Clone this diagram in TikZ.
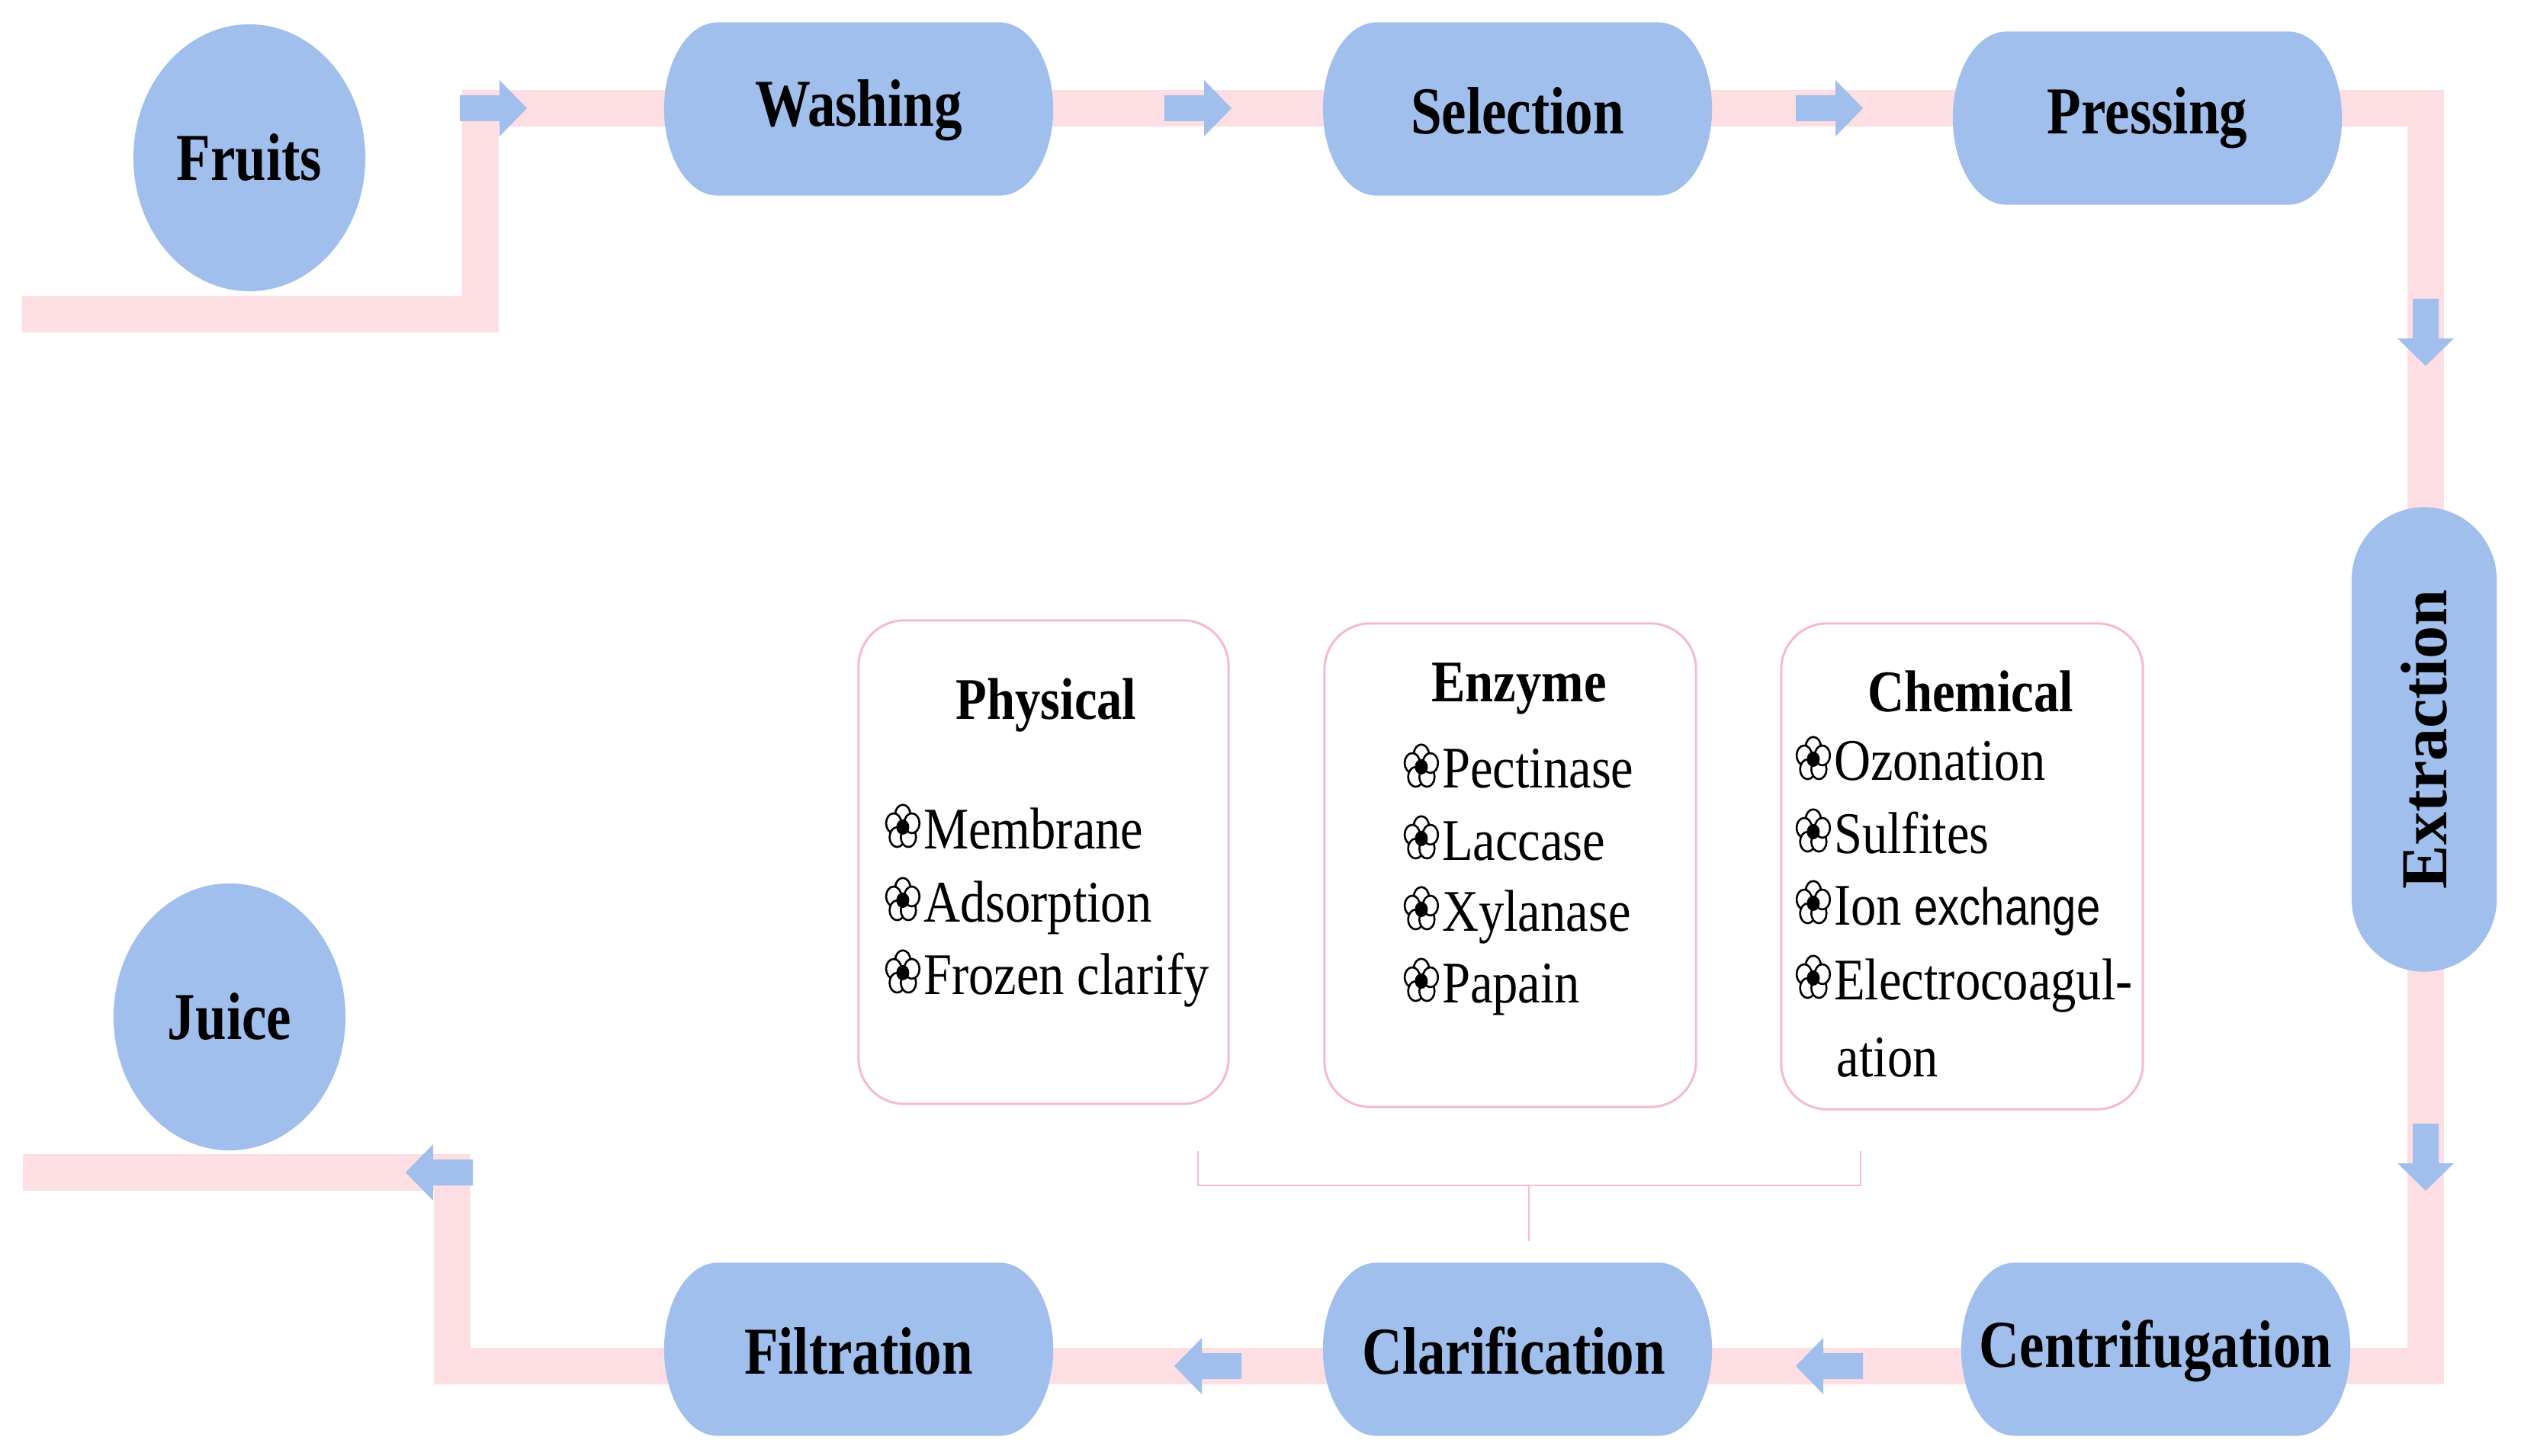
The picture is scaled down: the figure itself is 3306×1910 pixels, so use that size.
\documentclass[tikz,border=0pt]{standalone}
\usepackage{fontspec}
\setmainfont{Liberation Serif}[FakeStretch=0.86]
\newfontfamily\labelfont{Liberation Serif}[FakeStretch=0.83]
\newfontfamily\plainserif{Liberation Serif}
\newfontfamily\sansx{Liberation Sans}[FakeStretch=0.82]
\usetikzlibrary{shapes.geometric,shapes.misc}
\definecolor{nodeblue}{RGB}{160,191,236}
\definecolor{bandpink}{RGB}{252,222,227}
\definecolor{boxpink}{RGB}{245,188,200}
\pgfdeclarelayer{bands}
\pgfdeclarelayer{shapes}
\pgfsetlayers{bands,shapes,main}
\newcommand{\flw}{\tikz[baseline=-0.28cm, x=1cm, y=1.3cm, line width=0.026cm]{%
  \foreach \a in {90,162,234,306,18} \draw[fill=white] (\a:0.125) circle[x radius=0.1cm, y radius=0.13cm];
  \fill (0,0) circle[x radius=0.085cm, y radius=0.1cm];}\hspace{0.04cm}}
\tikzset{
  stadium/.style={rectangle, minimum width=3.7cm, minimum height=2.27cm, inner sep=0pt,
    font=\labelfont\fontsize{25}{29}\selectfont\bfseries},
  oval/.style={ellipse, fill=nodeblue, minimum width=3.04cm, minimum height=3.5cm,
    inner sep=0pt, font=\labelfont\fontsize{25}{29}\selectfont\bfseries},
  band/.style={draw=bandpink, line width=0.48cm, line join=miter},
  infobox/.style={draw=boxpink, line width=0.03cm, rounded corners=0.6cm, fill=white},
  boxtitle/.style={font=\fontsize{22}{26}\selectfont\bfseries, anchor=base, inner sep=0pt},
  item/.style={font=\fontsize{22}{26}\selectfont, anchor=base west, inner sep=0pt},
  bracket/.style={draw=boxpink, line width=0.025cm},
  barrow/.pic={\fill[nodeblue] (0,-17)--(52,-17)--(52,-37)--(88,0)--(52,37)--(52,17)--(0,17)--cycle;}
}
\begin{document}
\begin{tikzpicture}[x=0.01cm,y=-0.01cm]
\useasboundingbox (0,0) rectangle (3306,1910);
% band route
\coordinate (b0) at (29,412);
\coordinate (b1) at (630,412);
\coordinate (b2) at (630,142);
\coordinate (b3) at (3181,142);
\coordinate (b4) at (3181,1792);
\coordinate (b5) at (593,1792);
\coordinate (b6) at (593,1538);
\coordinate (b7) at (30,1538);
\begin{pgfonlayer}{bands}
\draw[band] (b0) -- (b1) -- (b2) -- (b3) -- (b4) -- (b5) -- (b6) -- (b7);
\pic (a1) at (603,142) {barrow};
\pic (a2) at (1527,142) {barrow};
\pic (a3) at (2355,142) {barrow};
\pic[rotate=-90] (a4) at (3181,392) {barrow};
\pic[rotate=-90] (a5) at (3181,1474) {barrow};
\pic[rotate=180] (a6) at (2443,1792) {barrow};
\pic[rotate=180] (a7) at (1628,1792) {barrow};
\pic[rotate=180] (a8) at (620,1538) {barrow};
\end{pgfonlayer}
% process nodes
\node[oval] (fruits) at (327,207) {Fruits};
\node[oval] (juice) at (301,1334) {Juice};
\node[stadium] (washing) at (1126,145) {Washing};
\node[stadium] (selection) at (1990,145) {Selection};
\node[stadium] (pressing) at (2816,155) {Pressing};
\node[rounded rectangle, rounded rectangle arc length=180, fill=nodeblue, rotate=90,
  minimum width=6.09cm, minimum height=1.9cm, inner sep=0pt,
  font=\plainserif\fontsize{24.5}{28}\selectfont\bfseries] (extraction) at (3179,970) {Extraction};
\node[stadium] (centrifugation) at (2827,1772) {Centrifugation};
\node[stadium] (clarification) at (1985,1772) {Clarification};
\node[stadium] (filtration) at (1126,1772) {Filtration};
\begin{pgfonlayer}{shapes}
\foreach \n/\cx/\cy in {washing/1126/143,selection/1990/143,pressing/2816/155,
    centrifugation/2827/1770,clarification/1990/1770,filtration/1126/1770}
  \fill[nodeblue] ([xshift=-1.85cm,yshift=1.135cm]\cx,\cy)
     arc[start angle=90, end angle=270, x radius=0.7cm, y radius=1.135cm]
     -- ([xshift=1.85cm,yshift=-1.135cm]\cx,\cy)
     arc[start angle=-90, end angle=90, x radius=0.7cm, y radius=1.135cm] -- cycle;
\end{pgfonlayer}
% info boxes
\node[infobox, minimum width=4.85cm, minimum height=6.34cm] (phys) at (1368.5,1131) {};
\node[infobox, minimum width=4.87cm, minimum height=6.34cm] (enz) at (1980.5,1135) {};
\node[infobox, minimum width=4.74cm, minimum height=6.37cm] (chem) at (2573,1136.5) {};
\node[boxtitle] (physT) at (1372,944) {Physical};
\node[item] (p1) at (1160,1113) {\flw Membrane};
\node[item] (p2) at (1160,1209) {\flw Adsorption};
\node[item] (p3) at (1160,1304) {\flw Frozen clarify};
\node[boxtitle] (enzT) at (1992,921) {Enzyme};
\node[item] (e1) at (1840,1034) {\flw Pectinase};
\node[item] (e2) at (1840,1128) {\flw Laccase};
\node[item] (e3) at (1840,1221) {\flw Xylanase};
\node[item] (e4) at (1840,1315) {\flw Papain};
\node[boxtitle] (chemT) at (2584,934) {Chemical};
\node[item] (c1) at (2354,1024) {\flw Ozonation};
\node[item] (c2) at (2354,1119) {\flw Sulfites};
\node[item] (c3) at (2354,1213) {\flw Ion {\sansx\fontsize{19.5}{24}\selectfont exchange}};
\node[item] (c4) at (2354,1311) {\flw Electrocoagul-};
\node[item] (c5) at (2408,1412) {ation};
% bracket
\coordinate (k1) at (1571,1510);
\coordinate (k2) at (1571,1555);
\coordinate (k3) at (2440,1555);
\coordinate (k4) at (2440,1510);
\coordinate (k5) at (2005,1555);
\coordinate (k6) at (2005,1628);
\draw[bracket] (k1) -- (k2) -- (k3) -- (k4);
\draw[bracket] (k5) -- (k6);
\end{tikzpicture}
\end{document}
